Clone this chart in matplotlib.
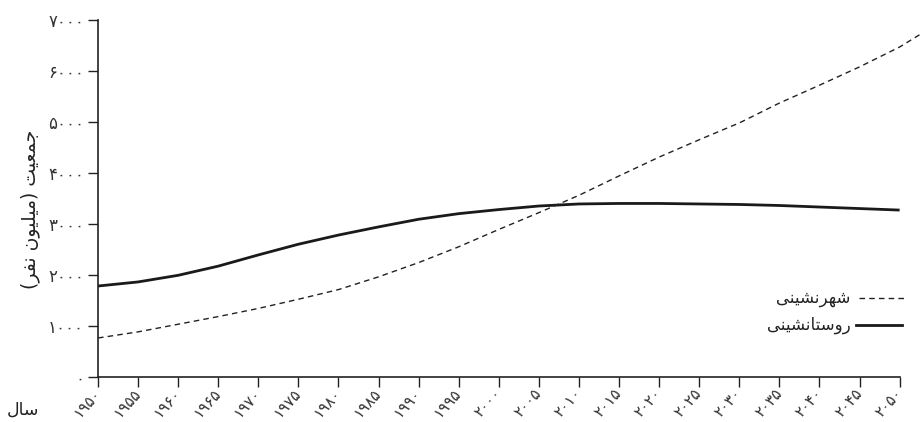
import matplotlib
matplotlib.use('Agg')
import matplotlib.pyplot as plt

# world population (million)
years = [1950, 1955, 1960, 1965, 1970, 1975, 1980, 1985, 1990, 1995, 2000,
         2005, 2010, 2015, 2020, 2025, 2030, 2035, 2040, 2045, 2050]
rural = [1780, 1860, 1990, 2170, 2390, 2600, 2780, 2940, 3090, 3200, 3280,
         3350, 3390, 3400, 3400, 3390, 3380, 3360, 3330, 3300, 3270]
# urban line runs a little past the 2050 tick in the picture
urban_years = years + [2053]
urban = [760, 880, 1030, 1180, 1340, 1520, 1710, 1960, 2240, 2550, 2890,
         3220, 3560, 3940, 4310, 4650, 4980, 5370, 5720, 6080, 6470, 6760]

yticks = [0, 1000, 2000, 3000, 4000, 5000, 6000, 7000]
xticks = list(range(1950, 2051, 5))

# matplotlib has no arabic shaping, so the words are written with
# presentation forms in visual (left to right) order
ylabel_txt = '(\uFEAE\uFED4\uFEE7 \uFEE5\uFEEE\uFEF4\uFEE0\uFEF4\uFEE3) \uFE96\uFEF4\uFECC\uFEE4\uFE9F'
xlabel_txt = '\uFEDD\uFE8E\uFEB3'
urban_txt = '\uFEF0\uFEE8\uFEF4\uFEB8\uFEE7\uFEAE\uFEEC\uFEB7'
rural_txt = '\uFEF0\uFEE8\uFEF4\uFEB8\uFEE7\uFE8E\uFE98\uFEB3\uFEED\uFEAD'

fa_digits = str.maketrans('0123456789', '۰۱۲۳۴۵۶۷۸۹')


def fa(n):
    return str(n).translate(fa_digits)


plt.rcParams['font.family'] = ['DejaVu Sans']

fig = plt.figure(figsize=(9.22, 4.22), dpi=100)
ax = fig.add_axes([0.1063, 0.1073, 0.8955, 0.8453])

ax.plot(years, rural, color='#1a1a1a', lw=2.0, solid_capstyle='butt')
ax.plot(urban_years, urban, color='#222222', lw=1.0, dashes=(4, 3))

ax.set_xlim(1950, 2053)
ax.set_ylim(0, 7000)

for s in ['top', 'right']:
    ax.spines[s].set_visible(False)
ax.spines['bottom'].set_bounds(1950, 2050)
for s in ['left', 'bottom']:
    ax.spines[s].set_linewidth(1.2)
    ax.spines[s].set_color('#222222')

ax.set_yticks(yticks)
ax.set_yticklabels([fa(v) for v in yticks], fontsize=12, color='#333333')
ax.set_xticks(xticks)
ax.set_xticklabels([fa(v) for v in xticks], fontsize=11, color='#333333',
                   rotation=48, ha='right', va='center', rotation_mode='anchor')
ax.tick_params(axis='both', length=7, width=1.0, color='#222222')
ax.tick_params(axis='y', pad=3)
ax.tick_params(axis='x', pad=3)

fig.text(0.033, 0.505, ylabel_txt, rotation=90, ha='center', va='center',
         fontsize=13.5, color='#222222')
fig.text(0.025, 0.03, xlabel_txt, ha='center', va='center',
         fontsize=12.5, color='#222222')

# legend drawn by hand like the original figure
ax.plot([2044.9, 2050.5], [1543, 1543], color='#222222', lw=1.0, dashes=(4, 3))
ax.text(2043.9, 1543, urban_txt, ha='right', va='center', fontsize=12, color='#222222')
ax.plot([2044.6, 2050.3], [1014, 1014], color='#1a1a1a', lw=2.0)
ax.text(2043.9, 1014, rural_txt, ha='right', va='center', fontsize=12, color='#222222')

fig.savefig('out.png', dpi=100)
